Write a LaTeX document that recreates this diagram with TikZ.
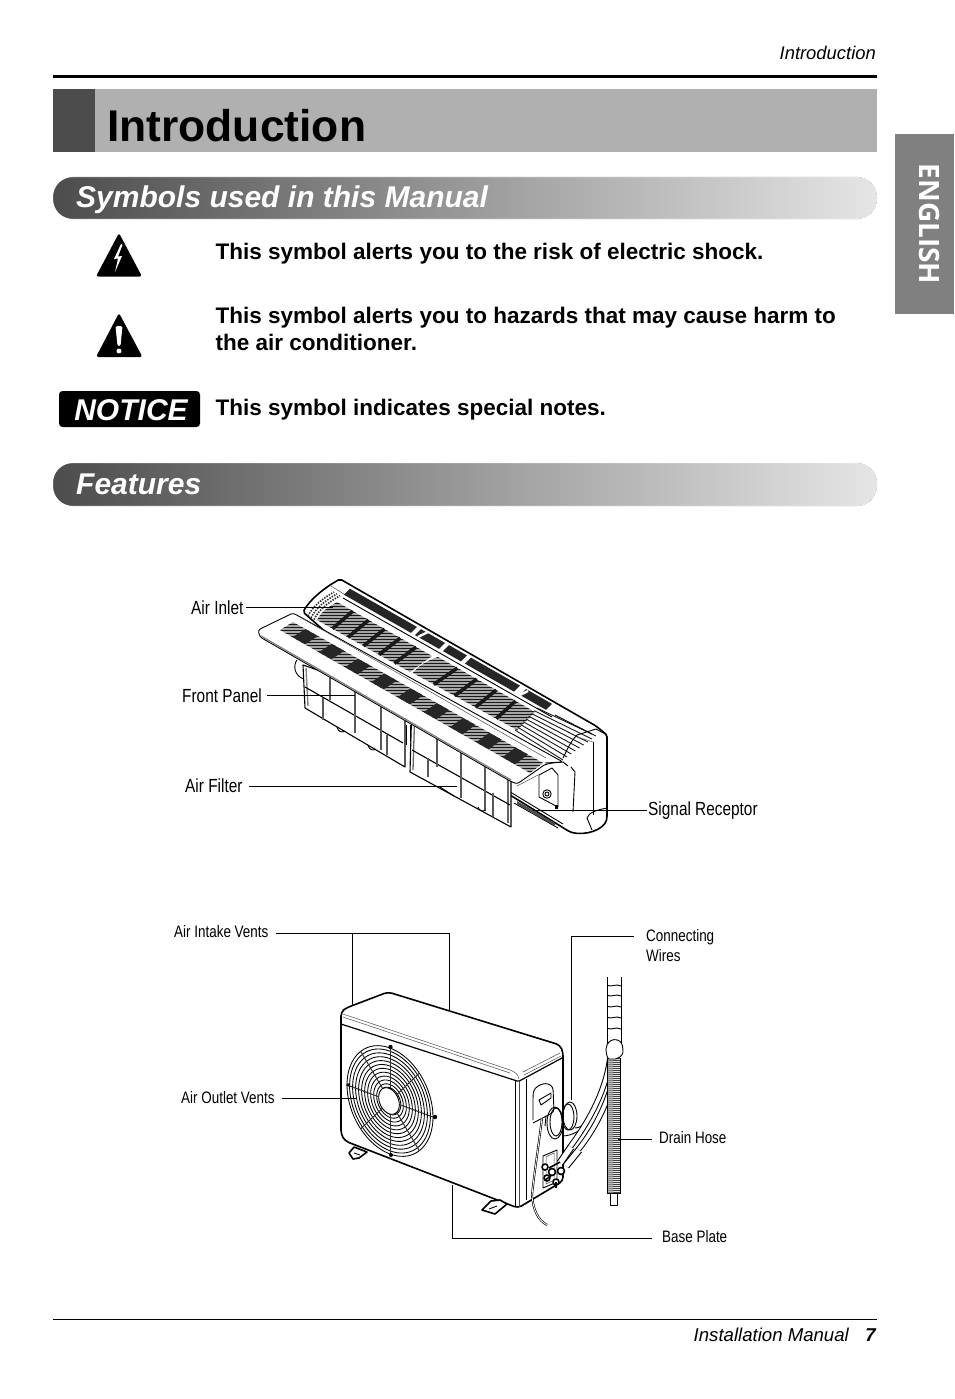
\documentclass[tikz,border=0pt]{standalone}
\usepackage{fontspec}
\setmainfont{Liberation Sans}
\newfontfamily\narrowf[FakeStretch=0.81]{Liberation Sans}
\newfontfamily\tabf{Open Sans}
\usetikzlibrary{calc,shadings}
\definecolor{bannerL}{gray}{0.30}
\definecolor{bannerR}{gray}{0.90}
\definecolor{tabgray}{gray}{0.50}
\definecolor{titlegray}{gray}{0.69}
\definecolor{blockgray}{gray}{0.30}
\tikzset{
  banner/.style={draw=none,left color=bannerL,right color=bannerR,rounded corners=20},
  bannertext/.style={anchor=base west,inner sep=0,text=white,font=\fontsize{30}{30}\selectfont\bfseries\itshape},
  bodytext/.style={anchor=base west,inner sep=0,font=\fontsize{22.5}{22.5}\selectfont\bfseries},
  biglabel/.style={anchor=base west,inner sep=0,font=\narrowf\fontsize{19}{19}\selectfont},
  smalllabel/.style={anchor=base west,inner sep=0,font=\narrowf\fontsize{16.6}{16.6}\selectfont},
  leader/.style={draw=black,line width=0.8},
  ln/.style={draw=black,line width=0.9,line join=round},
  thick ln/.style={draw=black,line width=1.6,line join=round},
  thin ln/.style={draw=black!70,line width=0.5},
  slat/.style={draw=black!90,line width=0.9},
  stripe/.style={draw=black!90,line width=1.5},
  rib/.style={draw=black!90,line width=3.6},
  fr/.style={draw=black,line width=1.1,line join=round}
}
\newcommand{\slatgrid}[5]{%
  \foreach \i in {0,...,#5}{%
    \pgfmathsetmacro{\tq}{\i/#5}%
    \draw[slat] ($(#1)!\tq!(#4)$) -- ($(#2)!\tq!(#3)$);
  }}
\newcommand{\ribs}[5]{%
  \foreach \i in {1,...,#5}{%
    \pgfmathsetmacro{\tq}{\i/(#5+1)}%
    \draw[rib] ($(#1)!\tq!(#2)$) -- ($(#4)!\tq!(#3)$);
  }}
\newcommand{\stripes}[1]{%
  \begin{scope}
    \clip #1;
    \fill[black!35] (255,580) rectangle (570,780);
    \foreach \yy in {585.5,588.5,...,780}{\draw[stripe] (255,\yy) -- (570,\yy);}
  \end{scope}}
\newcommand{\dstrip}[2]{%
  \fill[black!85] ({#1},{587+(#1-347)*.57}) -- ({#2},{587+(#2-347)*.57}) -- ({#2-6},{593+(#2-347)*.57}) -- ({#1-6},{593+(#1-347)*.57}) -- cycle;}
\newcommand{\fanring}[1]{%
  \draw[draw=black,line width=0.85] plot[domain=0:360,samples=72,smooth] ({390+#1*43*cos(\x)},{1101+#1*(16*cos(\x)+53*sin(\x))}) -- cycle;}
\newcommand{\fanspoke}[1]{%
  \draw[draw=black!80,line width=1] ({390+.22*43*cos(#1)},{1101+.22*(16*cos(#1)+53*sin(#1))}) -- ({390+1.0*43*cos(#1)},{1101+1.0*(16*cos(#1)+53*sin(#1))});}
\begin{document}
\begin{tikzpicture}[x=1pt,y=-1pt]
\useasboundingbox (0,0) rectangle (954,1399);
\fill[white] (0,0) rectangle (954,1399);
% header
\node[anchor=base east,inner sep=0,font=\fontsize{18.4}{18.4}\selectfont\itshape] (hdr) at (876,59.5) {Introduction};
\fill[black] (53,75) rectangle (877,78);
\fill[titlegray] (53,89) rectangle (877,152);
\fill[blockgray] (53,89) rectangle (95,152);
\node[anchor=base west,inner sep=0,font=\fontsize{44.4}{44.4}\selectfont\bfseries] (title) at (107,142) {Introduction};
% tab
\fill[tabgray] (895,134) rectangle (954,314);
\node[rotate=-90,inner sep=0,text=white,font=\tabf\fontsize{28}{28}\selectfont\bfseries] (tab) at (929,224) {ENGLISH};
% banners
\fill[banner] (53,177) rectangle (877,219);
\draw[white,line width=0.7,rounded corners=20] (52.7,176.7) rectangle (877.3,219.3);
\node[bannertext] (b1) at (76,207.3) {Symbols used in this Manual};
\fill[banner] (53,463) rectangle (877,506);
\draw[white,line width=0.7,rounded corners=20] (52.7,462.7) rectangle (877.3,506.3);
\node[bannertext] (b2) at (76,494.5) {Features};
% symbols
\fill[black,rounded corners=2.5] (119,233) -- (142,276.5) -- (96,276.5) -- cycle;
\fill[white] (121,244) -- (114,259) -- (118,258.5) -- (115,272) -- (122,256) -- (118,256.5) -- (122.5,245) -- cycle;
\fill[black,rounded corners=2.5] (119,313) -- (142.5,357) -- (96,357) -- cycle;
\fill[white,rounded corners=1.5] (115.5,326) -- (122.5,326) -- (120.5,346) -- (117.5,346) -- cycle;
\fill[white] (119,351) circle (2.4);
\fill[black,rounded corners=3.5] (59,391) rectangle (200,427);
\node[anchor=base,inner sep=0,text=white,font=\fontsize{30}{30}\selectfont\bfseries\itshape] (notice) at (131,420.5) {NOTICE};
\node[bodytext] (t1) at (215.5,259.5) {This symbol alerts you to the risk of electric shock.};
\node[bodytext] (t2) at (215.5,323.5) {This symbol alerts you to hazards that may cause harm to};
\node[bodytext] (t3) at (215.5,350.5) {the air conditioner.};
\node[bodytext] (t4) at (215.5,415.5) {This symbol indicates special notes.};
% ===== indoor unit =====
\draw[thick ln,fill=white,rounded corners=2] (303,612) .. controls (310,600) and (320,592) .. (330,585) -- (340,579) -- (596,726) -- (607,735) -- (607,818) .. controls (604,830) and (585,836) .. (570,832) -- (510,795) -- cycle;
\draw[thin ln] (331,586) -- (347,596);
% back strips
\dstrip{350}{417}\dstrip{421}{445}\dstrip{449}{467}\dstrip{471}{520}\dstrip{526}{552}
\draw[ln] (343,598) -- (552,717);
\draw[white,line width=2.4] (418,637) -- (428,632);
\draw[white,line width=2.4] (520,695) -- (528,691);
% grille regions
\stripes{(337,602) -- (432,656) -- (410,672) -- (317,620) .. controls (321,612) and (328,607) .. (337,602) -- cycle}
\coordinate (g1a) at (337,602);\coordinate (g1b) at (432,656);\coordinate (g1c) at (410,672);\coordinate (g1d) at (317,620);
\ribs{g1a}{g1b}{g1c}{g1d}{5}
\stripes{(438,657) -- (535,712) -- (517,730) -- (413,673) .. controls (418,666) and (428,660) .. (438,657) -- cycle}
\coordinate (g2a) at (438,657);\coordinate (g2b) at (535,712);\coordinate (g2c) at (517,730);\coordinate (g2d) at (413,673);
\ribs{g2a}{g2b}{g2c}{g2d}{4}
\coordinate (g3a) at (537,708);\coordinate (g3b) at (596,736);\coordinate (g3c) at (563,760);\coordinate (g3d) at (515,730);
\slatgrid{g3a}{g3b}{g3c}{g3d}{8}
\draw[draw=black,line width=0.9] (555,715) -- (592,734);
\foreach \dd in {0,3,6}{
\draw[line width=1.6,draw=black!80,dash pattern=on 1.5 off 1.2] (308+\dd,616+\dd*.6) .. controls (313+\dd,606+\dd*.6) and (322+\dd,599+\dd*.6) .. (334+\dd,592+\dd*.6);
}
% right end
\draw[ln] (596,729) -- (577,735) .. controls (570,742) and (566,752) .. (563,758);
\draw[ln] (593,742) -- (593,815);
\draw[ln] (607,735) -- (596,729);
\draw[thin ln] (593,742) -- (577,737);
\draw[ln] (571,767) -- (575,772) -- (573,812);
\draw[ln,fill=white] (539,775) -- (552,768) -- (558,775) -- (558,807) -- (539,797) -- cycle;
\draw[ln] (547,794) circle (4.2);
\draw[ln] (547,794) circle (2);
\fill (555,805) rectangle (558,809);
\draw[ln] (507,790) -- (563,824);
\draw[ln] (514,803) -- (558,828);
\fill[black!70] (517,801) -- (555,823) -- (555,826) -- (517,804) -- cycle;
\draw[ln] (607,808) .. controls (597,810) and (589,812) .. (587,818) -- (592,830);
\draw[thin ln] (538,775) -- (517,786);
% filters
\draw[fill=white,ln] (297,660) .. controls (293,665) and (294,676) .. (304,679);
\draw[fr,fill=white] (303,665) -- (305,708) -- (405,767) -- (405,700) -- cycle;
\draw[draw=black!50,line width=1.4] (306,668) -- (308,706);
\draw[fr,fill=white] (412,700) -- (410,772) -- (511,827) -- (511,760) -- cycle;
\draw[draw=black!60,line width=1.3] (415,705) -- (413,770);
\draw[draw=black!60,line width=1.3] (508,770) -- (508,823);
\draw[fr] (305,687) -- (403,743);
\draw[fr] (412,750) -- (510,805);
\foreach \xa/\ya/\xb/\yb in {330/665/330/700,323/698/323/720,355/690/355/733,381/705/381/750,387/735/387/755,437/730/437/767,428/758/428/777,461/745/461/798,485/765/485/810,493/793/493/817}{
  \draw[draw=black!65,line width=1.7] (\xa,\ya) -- (\xb,\yb);
}
\draw[ln] (406,725) -- (406,745);\draw[ln] (410,725) -- (410,742);
\draw[ln] (337,727) .. controls (338,732) and (342,733) .. (345,731);
\draw[ln] (368,745) .. controls (369,750) and (373,751) .. (376,749);
\draw[ln] (440,787) -- (454,796);
\draw[ln] (478,807) .. controls (479,811) and (483,812) .. (486,810);
% front panel
\draw[ln,fill=white,rounded corners=2.5] (258,630) -- (293,613) -- (563,762) .. controls (550,763) and (545,764) .. (540,768) -- (517,784) -- (510,781) -- (260,637) -- cycle;
\draw[draw=black!50,line width=1.3] (261,636) -- (511,780);
\draw[thin ln] (300,617) -- (546,758);
% band on the panel
\coordinate (pa) at (293,622);\coordinate (pb) at (543,763);\coordinate (pc) at (530,773);\coordinate (pd) at (280,630);
\stripes{(pa) -- (pb) -- (pc) -- (pd) -- cycle}
\foreach \s in {0.05,0.155,0.26,0.365,0.47,0.575,0.68,0.785,0.89}{
  \pgfmathsetmacro{\e}{\s+0.05}
  \fill[black!85] ($(pa)!\s!(pb)$) -- ($(pa)!\e!(pb)$) -- ($(pd)!\e!(pc)$) -- ($(pd)!\s!(pc)$) -- cycle;
}
\draw[ln] (545,763) -- (563,762) -- (568,766);
% leader lines & labels, indoor
\node[biglabel] (airinlet) at (191,614) {Air Inlet};
\coordinate (airinletE) at (333,607.5);
\draw[leader] (246,607.5) -- (airinletE);
\node[biglabel] (frontpanel) at (182,702) {Front Panel};
\coordinate (frontpanelE) at (355,695.5);
\draw[leader] (267,695.5) -- (frontpanelE);
\node[biglabel] (airfilter) at (185,792) {Air Filter};
\coordinate (airfilterE) at (457,786);
\draw[leader] (249,786) -- (airfilterE);
\node[biglabel] (signal) at (648,815) {Signal Receptor};
\coordinate (signalE) at (533,810);
\draw[leader] (signal.base west |- signalE) ++(-1,0) -- (signalE);
% ===== outdoor unit =====
\draw[thick ln,fill=white,rounded corners=4] (388,992) -- (560,1045) -- (563,1052) -- (563,1181) -- (518,1208) -- (345,1141) -- (341,1134) -- (341,1012) -- (346,1008) -- cycle;
% feet
\draw[thick ln,fill=white] (349,1153) -- (354,1147) -- (367,1152) -- (359,1158) -- (353,1159) -- cycle;
\draw[ln] (354,1153) -- (360,1155);
\draw[thick ln,fill=white] (482,1210) -- (491,1201) -- (500,1200) -- (507,1204) -- (495,1214) -- cycle;
\draw[ln] (489,1209) -- (497,1206);
% top face creases
\draw[draw=black,line width=1.2] (341,1024) -- (514,1080) .. controls (518,1082) and (521,1081) .. (523,1079) -- (562,1058);
\draw[thin ln] (343,1014) -- (510,1070) .. controls (515,1072) and (518,1074) .. (519,1079);
\draw[thin ln] (343,1017) -- (510,1073);
\draw[thin ln] (523,1072) -- (560,1053);
\draw[thin ln] (524,1075) -- (561,1056);
% corner verticals
\draw[ln] (515,1081) -- (515,1207);
\draw[thin ln] (519,1081) -- (519,1207);
\draw[ln] (526,1079) -- (526,1200);
% fan
\foreach \r in {1,.94,.87,.80,.73,.66,.59,.52,.45,.38,.31,.25}{\fanring{\r}}
\foreach \a in {0,47,90,133,180,227,270,313}{\fanspoke{\a}}
\fill[white] plot[domain=0:360,samples=48,smooth] ({389+.24*43*cos(\x)},{1101+.24*(16*cos(\x)+53*sin(\x))}) -- cycle;
\draw[ln] plot[domain=0:360,samples=48,smooth] ({389+.24*43*cos(\x)},{1101+.24*(16*cos(\x)+53*sin(\x))}) -- cycle;
\fill (390.5,1047) circle (2.2);\fill (391,1155) circle (2);\fill (435,1117) circle (2.2);\fill (348,1085) circle (1.8);
% side handle
\draw[ln,fill=white,rounded corners=3] (533,1120) -- (533,1096) .. controls (534,1086) and (545,1081) .. (553,1087) -- (554,1112) -- (533,1123);
\draw[ln] (539,1100) -- (551,1093) -- (551,1098) -- (541,1105) -- cycle;
% bracket
\draw[ln] (543,1156) -- (557,1150) -- (557,1182) -- (543,1188) -- cycle;
\draw[thin ln] (546,1157) -- (554,1153) -- (554,1180) -- (546,1184) -- cycle;
% cable
\draw[draw=black,line width=2.1] (542,1118) .. controls (538,1150) and (534,1175) .. (532,1195) .. controls (533,1210) and (538,1220) .. (547,1225);
\draw[draw=white,line width=0.8] (542,1118) .. controls (538,1150) and (534,1175) .. (532,1195) .. controls (533,1210) and (538,1220) .. (547,1225);
\draw[ln] (546,1116) -- (545,1126);
% coils
\draw[draw=black,line width=0.9] (555,1123) ellipse (8 and 16);
\draw[draw=black,line width=0.9] (556,1122) ellipse (6 and 14);
\draw[draw=black,line width=0.9] (570,1116) ellipse (7 and 14);
\draw[draw=black,line width=0.9] (568,1117) ellipse (6 and 13);
\draw[draw=black,line width=0.9] (575,1128) .. controls (580,1128) and (585,1125) .. (590,1115);
\draw[draw=black,line width=0.9] (562,1136) .. controls (572,1136) and (584,1130) .. (590,1118);
% tubes
\foreach \w/\c in {5.8/black,3.8/white}{
  \draw[draw=\c,line width=\w] (610,1058) .. controls (606,1090) and (590,1120) .. (570,1147);
  \draw[draw=\c,line width=\w] (617,1060) .. controls (612,1095) and (598,1125) .. (578,1150);
}
\foreach \w/\c in {7.4/black,5.2/white}{
  \draw[draw=\c,line width=\w] (571,1147) -- (560,1163);
  \draw[draw=\c,line width=\w] (579,1150) -- (566,1166);
}
% valves
\foreach \cx/\cy/\rr in {545/1167/3,552/1172/3.5,561/1171/3.5,547/1178/3,556/1182/3}{
  \draw[thick ln,fill=white] (\cx,\cy) circle (\rr);
}
\draw[draw=black,line width=1.6] (549,1168) -- (560,1162);
\draw[draw=black,line width=1.6] (551,1176) -- (545,1180);
\draw[draw=black,line width=1.4] (556,1182) -- (556,1188);
% drain hose
\draw[ln] (607,977) -- (607,1044);
\draw[ln] (621,977) -- (621,1044);
\foreach \yy in {985,995,1006,1017,1028}{
  \draw[ln] (607,\yy) .. controls (611,\yy+3) and (616,\yy-2) .. (621,\yy+1);
}
\draw[ln,fill=white] (610,1193) rectangle (617.5,1205);
\fill[white] (607,1058) rectangle (620,1193);
\foreach \yy in {1058,1060,...,1192}{\draw[draw=black!75,line width=1] (607,\yy) -- (620,\yy+0.5);}
\draw[ln] (607,1058) -- (607,1193) -- (620,1193) -- (620,1058);
\draw[ln,fill=white,rounded corners=3] (606,1049) .. controls (607,1037) and (621,1037) .. (623,1049) .. controls (623,1056) and (617,1059) .. (612,1059) .. controls (608,1059) and (606,1055) .. (606,1049);
% leaders outdoor
\node[smalllabel] (intake) at (174,937) {Air Intake Vents};
\coordinate (intA) at (352,1005);\coordinate (intB) at (449,1010);\coordinate (intJ) at (449,933);
\draw[leader] (276,933) -- (intJ) -- (intB);
\draw[leader] (352,933) -- (intA);
\node[smalllabel] (conn1) at (646,941) {Connecting};
\node[smalllabel] (conn2) at (646,961) {Wires};
\coordinate (connE) at (571.5,1100);
\draw[leader] (634,936.5) -- (571.5,936.5) -- (connE);
\node[smalllabel] (outlet) at (181,1103) {Air Outlet Vents};
\coordinate (outletE) at (356,1098);
\draw[leader] (282,1098) -- (outletE);
\node[smalllabel] (drain) at (659,1143) {Drain Hose};
\coordinate (drainE) at (618,1139);
\draw[leader] (652,1139) -- (drainE);
\node[smalllabel] (base) at (662,1242) {Base Plate};
\coordinate (baseE) at (452.5,1185);
\draw[leader] (652,1238) -- (452.5,1238) -- (baseE);
% footer
\fill[black] (53,1318.7) rectangle (877,1319.7);
\node[anchor=base east,inner sep=0,font=\fontsize{18.6}{18.6}\selectfont\itshape] (ft) at (849,1341) {Installation Manual};
\node[anchor=base east,inner sep=0,font=\fontsize{18.6}{18.6}\selectfont\bfseries\itshape] (pg) at (876,1341) {7};
\end{tikzpicture}
\end{document}
